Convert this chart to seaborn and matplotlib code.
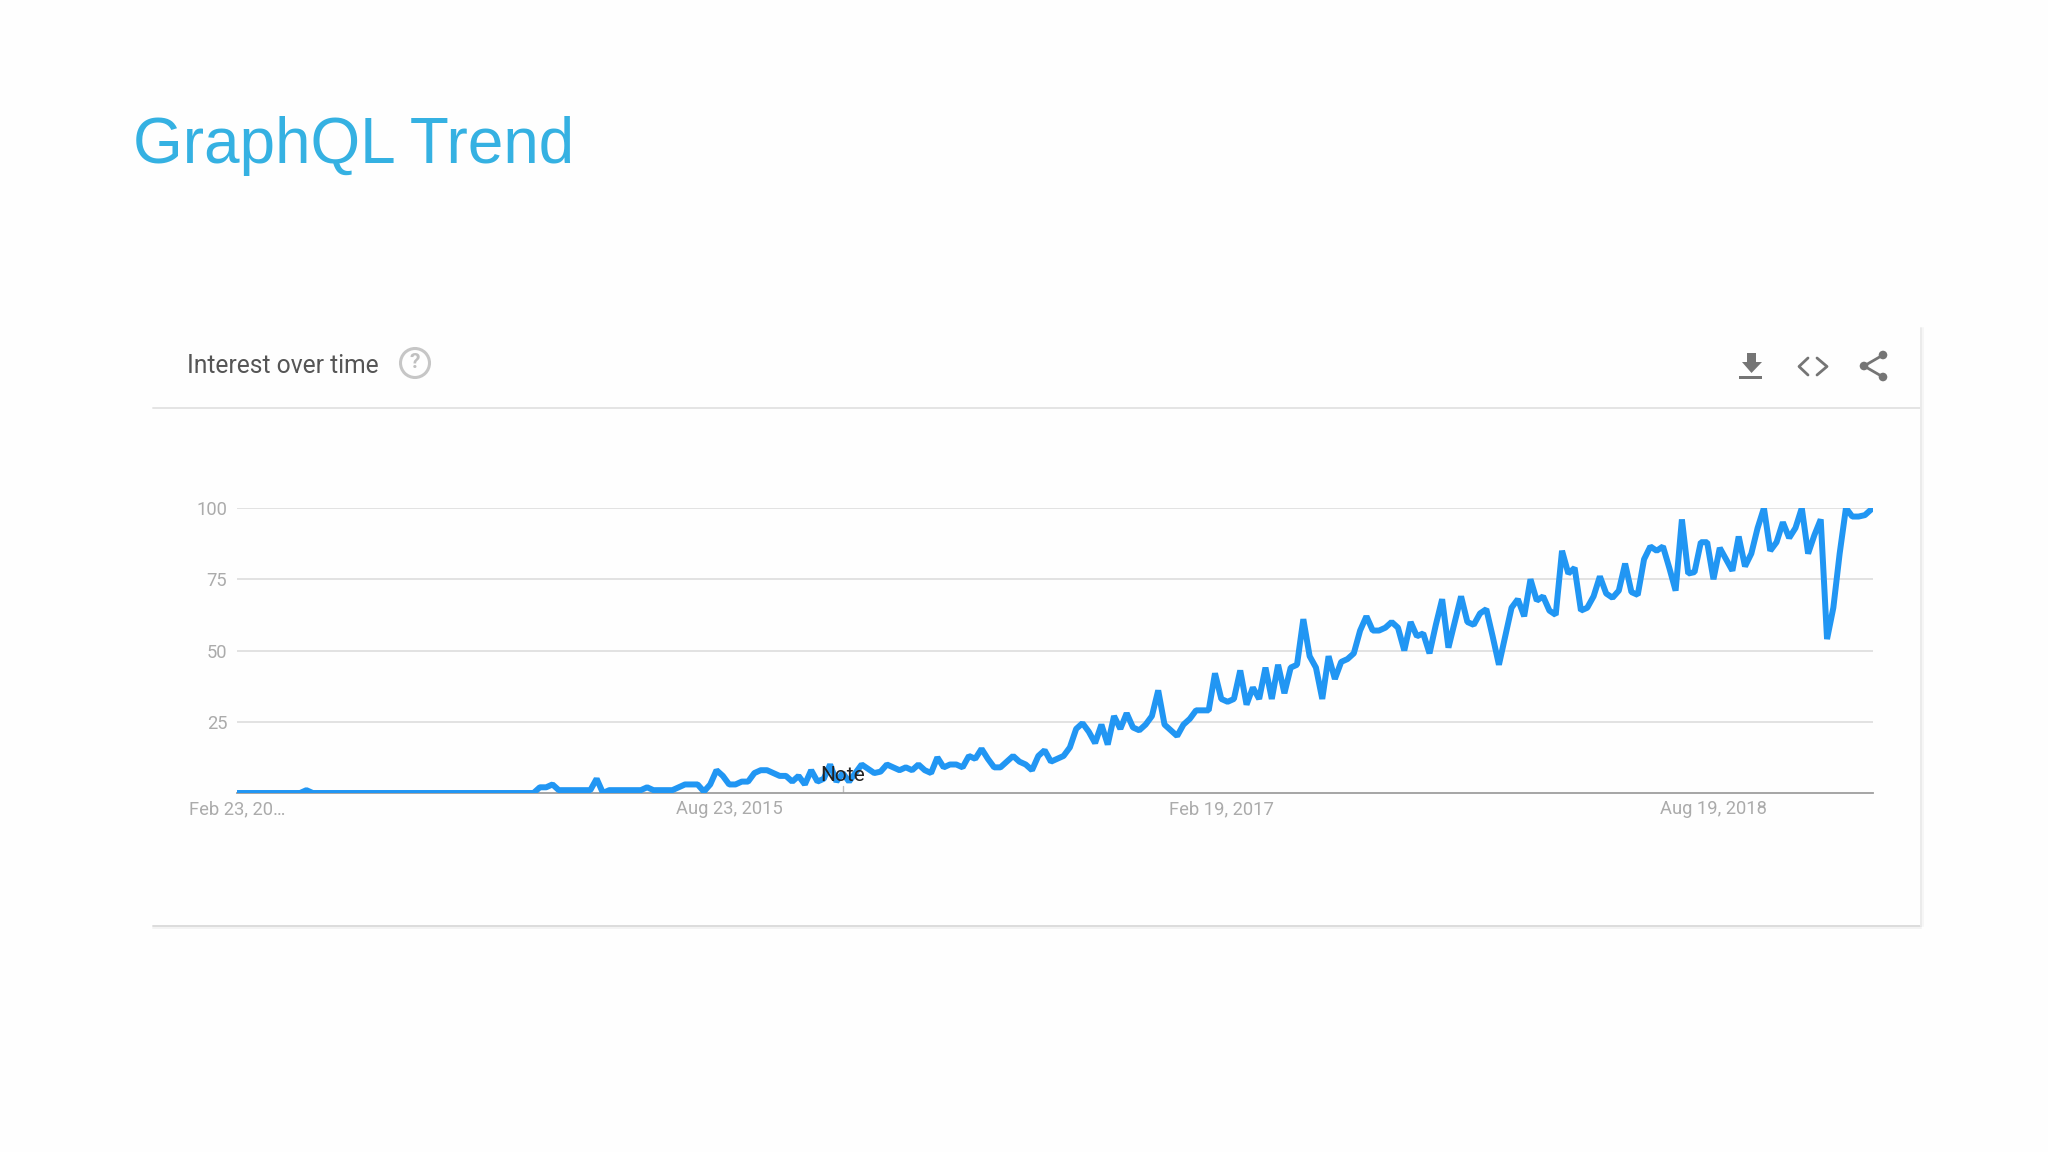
"""Recreate the GraphQL Trend slide: a Google Trends style interest-over-time chart."""

import matplotlib

matplotlib.use("Agg")

import matplotlib.pyplot as plt
import pandas as pd
import seaborn as sns
from matplotlib.patches import Circle, Polygon, Rectangle

# -------------------------------
# Data
# -------------------------------
START_DATE = "2014-02-23"

# weekly interest values
INTEREST = [
    0, 0, 0, 0, 0, 0, 0, 0, 0, 0, 0, 1, 0, 0, 0, 0, 0, 0, 0, 0,
    0, 0, 0, 0, 0, 0, 0, 0, 0, 0, 0, 0, 0, 0, 0, 0, 0, 0, 0, 0,
    0, 0, 0, 0, 0, 0, 0, 0, 2, 2, 3, 1, 1, 1, 1, 1, 1, 5, 0, 1,
    1, 1, 1, 1, 1, 2, 1, 1, 1, 1, 2, 3, 3, 3, 0.5, 3, 8, 6, 3, 3,
    4, 4, 7, 8, 8, 7, 6, 6, 4, 6, 3, 8, 4, 5, 10, 4, 7, 4, 7, 10,
    8.5, 7, 7.5, 10, 9, 8, 9, 8, 10, 8, 7, 12.5, 9, 10, 10, 9, 13, 12, 15.5, 12,
    9, 9, 11, 13, 11, 10, 8, 13, 15, 11, 12, 13, 16, 22.5, 24.5, 21.5, 17.5, 24, 17, 27,
    22.5, 28, 23, 22, 24, 27, 36, 24, 22, 20, 24, 26, 29, 29, 29, 42, 33, 32, 33, 43,
    31, 37, 33, 44, 33, 45, 35, 44, 45, 61, 48, 44, 33, 48, 40, 46, 47, 49, 57, 62,
    57, 57, 58, 60, 58, 50, 60, 55, 56, 49, 59, 68, 51, 60, 69, 60, 59, 63, 64.5, 55,
    45, 55, 65, 68, 62, 75, 67.5, 69, 64, 62.5, 85, 77, 79, 64, 65, 69, 76, 70, 68.5, 71,
    80.5, 70.5, 69.5, 82, 86.5, 85, 86.5, 79, 71, 96, 77, 77.5, 88, 88, 75, 86, 82, 78, 90, 79.5,
    84, 93, 100, 85, 88, 95, 89.5, 93, 100, 84, 90.5, 96, 54, 65, 84, 100, 97, 97, 97.5, 99.5,
]

Y_TICKS = [25, 50, 75, 100]
X_TICK_DATES = ["2014-02-23", "2015-08-23", "2017-02-19", "2018-08-19"]
X_TICK_LABELS = ["Feb 23, 20…", "Aug 23, 2015", "Feb 19, 2017", "Aug 19, 2018"]
NOTE_DATE = "2015-12-27"

# -------------------------------
# Layout and colours
# -------------------------------
WIDTH, HEIGHT = 2048, 1152
PLOT_LEFT, PLOT_RIGHT, PLOT_TOP, PLOT_BOTTOM = 237, 1873, 508, 793
X_END = "2019-02-12"

LINE_BLUE = "#2196F3"
TITLE_BLUE = "#35B1E2"
GRID_GREY = "#E0E0E0"
TICK_GREY = "#ABABAB"
ICON_GREY = "#757575"
CARD_LINE = "#E4E4E4"


def draw_card(chrome):
    """Draw the slide title, card outline, header text and icons in pixel coordinates."""
    chrome.set_xlim(0, WIDTH)
    chrome.set_ylim(HEIGHT, 0)
    chrome.axis("off")

    chrome.text(133, 146, "GraphQL Trend", color=TITLE_BLUE, fontsize=46,
                family="Liberation Sans", ha="left", va="center")

    chrome.plot([153, 1921], [408, 408], color=CARD_LINE, lw=1.4)
    chrome.plot([153, 1921], [926, 926], color="#DCDCDC", lw=1.4)
    chrome.plot([153, 1921], [928, 928], color="#F3F3F3", lw=1.4)
    chrome.plot([1921, 1921], [328, 926], color="#EBEBEB", lw=1.4)
    chrome.plot([1923, 1923], [328, 926], color="#F6F6F6", lw=1.4)

    chrome.text(187, 366, "Interest over time", color="#555555", fontsize=17.7,
                family="Roboto", ha="left", va="center")
    chrome.add_patch(Circle((415, 363), 14.5, fill=False, ec="#C6C6C6", lw=2.2))
    chrome.text(415, 363, "?", color="#C0C0C0", fontsize=15, family="Roboto",
                fontweight="bold", ha="center", va="center")

    # download icon
    chrome.add_patch(Rectangle((1747, 353), 9, 10, color=ICON_GREY, lw=0))
    chrome.add_patch(Polygon([(1742, 362), (1762, 362), (1751.5, 373)], color=ICON_GREY, lw=0))
    chrome.add_patch(Rectangle((1739, 376), 23, 3, color=ICON_GREY, lw=0))

    # embed icon
    chrome.plot([1808, 1799, 1808], [358, 366.5, 375], color=ICON_GREY, lw=2.0)
    chrome.plot([1817, 1827, 1817], [358, 366.5, 375], color=ICON_GREY, lw=2.0)

    # share icon
    chrome.plot([1883, 1864, 1883], [355, 366, 377], color=ICON_GREY, lw=2.0)
    for center in [(1883, 355), (1864, 366), (1883, 377)]:
        chrome.add_patch(Circle(center, 4.3, color=ICON_GREY, lw=0))


def draw_trend(ax):
    """Draw the interest line with its grid, axis and note marker."""
    dates = pd.date_range(START_DATE, periods=len(INTEREST), freq="7D")
    sns.lineplot(x=dates, y=INTEREST, ax=ax, color=LINE_BLUE, linewidth=4.3,
                 errorbar=None, solid_joinstyle="bevel", zorder=3)

    ax.set_xlim(pd.Timestamp(START_DATE), pd.Timestamp(X_END))
    ax.set_ylim(0, 100)
    ax.set_xlabel("")
    ax.set_ylabel("")
    ax.patch.set_alpha(0)

    ax.set_yticks(Y_TICKS)
    ax.set_xticks(pd.to_datetime(X_TICK_DATES))
    ax.set_xticklabels(X_TICK_LABELS)
    ax.grid(axis="y", color=GRID_GREY, lw=1.3)
    ax.grid(axis="x", visible=False)
    ax.tick_params(axis="x", length=0, pad=5, labelcolor=TICK_GREY, labelsize=13.2)
    ax.tick_params(axis="y", length=0, pad=7, labelcolor=TICK_GREY, labelsize=13.2)

    for name in ["top", "left", "right"]:
        ax.spines[name].set_visible(False)
    ax.spines["bottom"].set_color("#9E9E9E")
    ax.spines["bottom"].set_linewidth(1.3)

    note_x = pd.Timestamp(NOTE_DATE)
    ax.plot([note_x, note_x], [0, 2.5], color="#BDBDBD", lw=1, zorder=2)
    ax.text(note_x, 6.0, "Note", color="#222222", fontsize=15, family="Roboto",
            ha="center", va="center", zorder=4)


def main():
    sns.set_theme(style="white")
    plt.rcParams["font.family"] = ["Roboto", "DejaVu Sans"]

    fig = plt.figure(figsize=(WIDTH / 100, HEIGHT / 100), dpi=100, facecolor="#FEFEFE")
    chrome = fig.add_axes([0, 0, 1, 1])
    ax = fig.add_axes([
        PLOT_LEFT / WIDTH,
        1 - PLOT_BOTTOM / HEIGHT,
        (PLOT_RIGHT - PLOT_LEFT) / WIDTH,
        (PLOT_BOTTOM - PLOT_TOP) / HEIGHT,
    ])

    draw_card(chrome)
    draw_trend(ax)

    fig.savefig("out.png", dpi=100, facecolor=fig.get_facecolor())
    plt.close(fig)


if __name__ == "__main__":
    main()
